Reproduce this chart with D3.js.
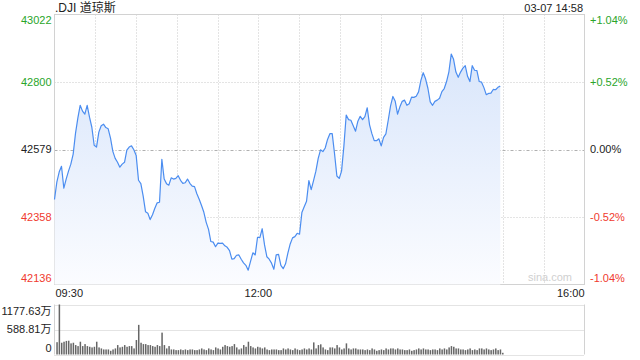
<!DOCTYPE html>
<html>
<head>
<meta charset="utf-8">
<script src="https://cdn.jsdelivr.net/npm/d3@7"></script>
<style>
  body { margin: 0; background: #fff; }
  svg { display: block; font-family: Arial, "Liberation Sans", "Noto Sans CJK SC", sans-serif; }
</style>
</head>
<body>
<svg id="chart" width="640" height="360"></svg>
<script>
'use strict';

const symbol = '.DJI 道琼斯';
const stamp = '03-07 14:58';
const prevClose = 42579;
const priceTicks = [43022, 42800, 42579, 42358, 42136];
const pctTicks = ['+1.04%', '+0.52%', '0.00%', '-0.52%', '-1.04%'];
const timeTicks = ['09:30', '12:00', '16:00'];
const volumeTicks = ['1177.63万', '588.81万', '0'];
const volumeMax = 1177.63;
const sessionMinutes = 390;   // 09:30 -> 16:00
const lastMinute = 328;       // 14:58

// index level, sampled evenly from 09:30 to 14:58
const prices = [
  42415, 42472, 42505, 42524, 42452, 42482, 42508, 42531, 42564, 42632,
  42682, 42724, 42705, 42695, 42724, 42685, 42652, 42593, 42587, 42636,
  42657, 42662, 42651, 42647, 42616, 42573, 42550, 42537, 42521, 42531,
  42537, 42577, 42587, 42591, 42578, 42559, 42478, 42467, 42426, 42375,
  42370, 42349, 42365, 42386, 42404, 42406, 42547, 42482, 42467, 42462,
  42486, 42482, 42484, 42493, 42478, 42468, 42470, 42482, 42468, 42459,
  42457, 42434, 42416, 42395, 42373, 42340, 42317, 42277, 42275, 42260,
  42272, 42271, 42272, 42263, 42258, 42247, 42219, 42221, 42232, 42233,
  42219, 42207, 42199, 42183, 42212, 42240, 42233, 42291, 42290, 42319,
  42266, 42227, 42219, 42206, 42186, 42233, 42235, 42199, 42188, 42204,
  42239, 42269, 42289, 42293, 42304, 42301, 42372, 42391, 42409, 42477,
  42447, 42477, 42508, 42550, 42578, 42572, 42584, 42612, 42631, 42631,
  42565, 42492, 42484, 42508, 42590, 42692, 42677, 42675, 42657, 42639,
  42672, 42688, 42677, 42687, 42716, 42660, 42631, 42608, 42608, 42614,
  42591, 42619, 42630, 42675, 42722, 42753, 42737, 42695, 42719, 42737,
  42741, 42724, 42729, 42751, 42750, 42754, 42768, 42806, 42831, 42811,
  42780, 42735, 42724, 42737, 42741, 42747, 42769, 42779, 42802, 42834,
  42892, 42875, 42833, 42816, 42833, 42846, 42854, 42819, 42802, 42854,
  42839, 42838, 42802, 42800, 42782, 42759, 42763, 42764, 42776, 42775,
  42783, 42787
];

// volume, in 万
const volumes = [
  290, 1177.63, 277, 301, 320, 325, 262, 277, 222, 198,
  301, 198, 245, 198, 182, 167, 182, 301, 167, 143,
  119, 119, 119, 87, 119, 143, 222, 167, 182, 222,
  182, 198, 198, 143, 341, 698, 277, 245, 245, 222,
  222, 198, 182, 222, 198, 515, 222, 143, 198, 119,
  119, 103, 103, 119, 103, 119, 103, 119, 119, 103,
  103, 119, 143, 119, 103, 143, 119, 103, 167, 143,
  119, 182, 222, 198, 182, 198, 245, 167, 119, 143,
  222, 182, 301, 198, 167, 143, 182, 167, 143, 167,
  119, 103, 119, 119, 119, 103, 103, 143, 119, 143,
  119, 103, 143, 119, 103, 119, 143, 119, 143, 119,
  285, 143, 222, 240, 167, 119, 103, 167, 167, 143,
  222, 167, 119, 143, 262, 143, 119, 143, 143, 119,
  119, 119, 103, 119, 103, 143, 119, 87, 103, 119,
  103, 143, 119, 143, 143, 119, 143, 119, 119, 103,
  103, 119, 87, 103, 119, 143, 119, 143, 119, 119,
  103, 119, 119, 103, 143, 119, 143, 119, 167, 198,
  182, 143, 143, 119, 119, 103, 119, 143, 103, 119,
  103, 143, 143, 119, 143, 119, 103, 119, 143, 103,
  119, 40
];

const GREEN = '#2aa52a';
const RED = '#f03a2e';
const INK = '#222';
const GRID = '#c8c8c8';
const BORDER = '#d2d2d2';

class IntradayChart {
  constructor (svg) {
    this.svg = svg;
    this.left = 54.5;
    this.right = 584.5;
    this.top = 14.5;
    this.bottom = 284.5;
    this.volTop = 304.5;
    this.volBottom = 354.5;

    this.x = d3.scaleLinear().domain([0, sessionMinutes]).range([this.left, this.right]);
    this.y = d3.scaleLinear()
      .domain([priceTicks[priceTicks.length - 1], priceTicks[0]])
      .range([this.bottom, this.top]);
    this.yVol = d3.scaleLinear().domain([0, volumeMax]).range([this.volBottom, this.volTop]);
  }

  minuteOf (i) {
    return i * lastMinute / (prices.length - 1);
  }

  tickColor (v) {
    if (v > prevClose) return GREEN;
    if (v < prevClose) return RED;
    return INK;
  }

  render () {
    this.setupDefs();
    this.drawTitle();
    this.drawPriceGrid();
    this.drawPrice();
    this.drawPriceAxes();
    this.drawVolume();
  }

  setupDefs () {
    var grad = this.svg.append('defs').append('linearGradient')
      .attr('id', 'area-fill')
      .attr('gradientUnits', 'userSpaceOnUse')
      .attr('x1', 0).attr('x2', 0)
      .attr('y1', this.top).attr('y2', this.bottom);
    grad.append('stop').attr('offset', '0%').attr('stop-color', '#d3e2fa');
    grad.append('stop').attr('offset', '100%').attr('stop-color', '#fbfcff');
  }

  drawTitle () {
    this.svg.append('text')
      .attr('x', 55).attr('y', 12)
      .attr('font-size', 12).attr('fill', INK)
      .text(symbol);
    this.svg.append('text')
      .attr('x', 583).attr('y', 12)
      .attr('text-anchor', 'end')
      .attr('font-size', 11).attr('fill', INK)
      .text(stamp);
  }

  drawPriceGrid () {
    var g = this.svg.append('g');

    // vertical dotted lines every 30 minutes
    var halfHours = d3.range(30, sessionMinutes, 30);
    g.selectAll('.vgrid').data(halfHours).enter().append('line')
      .attr('class', 'vgrid')
      .attr('x1', d => Math.round(this.x(d)) + 0.5)
      .attr('x2', d => Math.round(this.x(d)) + 0.5)
      .attr('y1', this.top).attr('y2', this.bottom)
      .attr('stroke', GRID)
      .attr('stroke-dasharray', '1,2');

    g.selectAll('.hgrid').data(priceTicks.slice(1, -1)).enter().append('line')
      .attr('class', 'hgrid')
      .attr('x1', this.left).attr('x2', this.right)
      .attr('y1', d => Math.round(this.y(d)) + 0.5)
      .attr('y2', d => Math.round(this.y(d)) + 0.5)
      .attr('stroke', d => d === prevClose ? '#b0b0b0' : GRID)
      .attr('stroke-dasharray', d => d === prevClose ? '3,2,1,2' : '1,2');

    g.append('rect')
      .attr('x', this.left).attr('y', this.top)
      .attr('width', this.right - this.left)
      .attr('height', this.bottom - this.top)
      .attr('fill', 'none')
      .attr('stroke', BORDER);

    g.append('text')
      .attr('x', 572).attr('y', 281)
      .attr('text-anchor', 'end')
      .attr('font-size', 11)
      .attr('fill', '#d0d0d0')
      .text('sina.com');
  }

  drawPrice () {
    var area = d3.area()
      .x((d, i) => this.x(this.minuteOf(i)))
      .y0(this.bottom)
      .y1(d => this.y(d));

    var line = d3.line()
      .x((d, i) => this.x(this.minuteOf(i)))
      .y(d => this.y(d));

    this.svg.append('path')
      .datum(prices)
      .attr('d', area)
      .attr('fill', 'url(#area-fill)');

    this.svg.append('path')
      .datum(prices)
      .attr('d', line)
      .attr('fill', 'none')
      .attr('stroke', '#4b8df0')
      .attr('stroke-width', 1.2)
      .attr('stroke-linejoin', 'round');
  }

  drawPriceAxes () {
    var last = priceTicks.length - 1;
    // end labels are pulled inside the box
    var nudge = i => i === 0 ? 6 : (i === last ? -6 : 0);

    this.svg.selectAll('.ylab').data(priceTicks).enter().append('text')
      .attr('class', 'ylab')
      .attr('x', 51.5)
      .attr('y', (d, i) => this.y(d) + nudge(i))
      .attr('dy', '0.35em')
      .attr('text-anchor', 'end')
      .attr('font-size', 11)
      .attr('fill', d => this.tickColor(d))
      .text(d => d);

    this.svg.selectAll('.pctlab').data(pctTicks).enter().append('text')
      .attr('class', 'pctlab')
      .attr('x', 590)
      .attr('y', (d, i) => this.y(priceTicks[i]) + nudge(i))
      .attr('dy', '0.35em')
      .attr('font-size', 11)
      .attr('fill', (d, i) => this.tickColor(priceTicks[i]))
      .text(d => d);

    var toMinute = s => {
      var p = s.split(':');
      return +p[0] * 60 + +p[1] - 570;
    };
    this.svg.selectAll('.tlab').data(timeTicks).enter().append('text')
      .attr('class', 'tlab')
      .attr('x', d => this.x(toMinute(d)) + (toMinute(d) === 0 ? 1 : 0))
      .attr('y', 297)
      .attr('text-anchor', d => toMinute(d) === 0 ? 'start' : (toMinute(d) === sessionMinutes ? 'end' : 'middle'))
      .attr('font-size', 11)
      .attr('fill', INK)
      .text(d => d);
  }

  drawVolume () {
    var g = this.svg.append('g');
    var levels = [volumeMax, volumeMax / 2, 0];

    g.selectAll('.vline').data(levels).enter().append('line')
      .attr('class', 'vline')
      .attr('x1', this.left).attr('x2', this.right)
      .attr('y1', d => Math.round(this.yVol(d)) + 0.5)
      .attr('y2', d => Math.round(this.yVol(d)) + 0.5)
      .attr('stroke', GRID)
      .attr('stroke-dasharray', '1,1');

    [this.left, this.right].forEach(xv => {
      g.append('line')
        .attr('x1', xv).attr('x2', xv)
        .attr('y1', this.volTop).attr('y2', this.volBottom)
        .attr('stroke', BORDER);
    });

    g.selectAll('.bar').data(volumes).enter().append('rect')
      .attr('class', 'bar')
      .attr('x', (d, i) => this.x(this.minuteOf(i)) + 1.8)
      .attr('width', 1.5)
      .attr('y', d => this.yVol(d))
      .attr('height', d => this.volBottom - this.yVol(d))
      .attr('fill', '#666');

    g.selectAll('.vlab').data(volumeTicks).enter().append('text')
      .attr('class', 'vlab')
      .attr('x', 51.5)
      .attr('y', (d, i) => this.yVol(levels[i]) + (i === 0 ? 7 : (i === 2 ? -6 : 0)))
      .attr('dy', '0.35em')
      .attr('text-anchor', 'end')
      .attr('font-size', 11)
      .attr('fill', INK)
      .text(d => d);
  }
}

var chart = new IntradayChart(d3.select('#chart'));
chart.render();
</script>
</body>
</html>
